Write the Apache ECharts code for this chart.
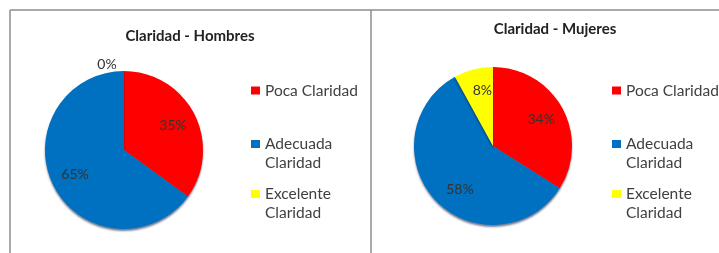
<!DOCTYPE html>
<html>
<head>
<meta charset="utf-8">
<script src="https://cdn.jsdelivr.net/npm/echarts@6/dist/echarts.min.js"></script>
<style>
  html, body { margin: 0; padding: 0; background: #fff; }
  #container { width: 719px; height: 253px; }
</style>
</head>
<body>
<div id="container"></div>
<script>
var categories = ["Poca Claridad", "Adecuada Claridad", "Excelente Claridad"];
var hombres = [35, 65, 0];
var mujeres = [34, 58, 8];
var titles = ["Claridad - Hombres", "Claridad - Mujeres"];
var colors = ["#FF0000", "#0070C0", "#FFFF00"];

var dom = document.getElementById("container");
var myChart = echarts.init(dom, null, { renderer: "canvas" });

var font = "Lato, 'Open Sans', sans-serif";

// one block per chart: pie centre, title pos, legend x, label nudges
var panels = [
  { values: hombres, center: [124, 150], titleX: 185, titleY: 24, legendX: 251,
    labelOffset: [null, null, [-17, -31]] },
  { values: mujeres, center: [493, 146], titleX: 550, titleY: 17, legendX: 612,
    labelOffset: [null, [7, 6], [3, -2]] }
];
var legendY = [90, 143.5, 193.5];

function toData(values) {
  return values.map(function (v, i) {
    return { name: categories[i], value: v, itemStyle: { color: colors[i] } };
  });
}

var series = [];
var legends = [];
var titleList = [];

panels.forEach(function (p, k) {
  titleList.push({
    text: titles[k],
    left: p.titleX,
    top: p.titleY,
    textAlign: "center",
    textStyle: { fontFamily: font, fontSize: 15, fontWeight: "bold", color: "#222" }
  });

  series.push({
    type: "pie",
    center: p.center,
    radius: [0, 79],
    startAngle: 90,
    clockwise: true,
    silent: true,
    label: { show: false },
    labelLine: { show: false },
    itemStyle: {
      shadowColor: "rgba(0, 20, 60, 0.55)",
      shadowBlur: 2,
      shadowOffsetY: 2
    },
    data: toData(p.values)
  });

  // label-only ring so the percentages sit at about 2/3 radius
  series.push({
    type: "pie",
    center: p.center,
    radius: [26, 78],
    startAngle: 90,
    clockwise: true,
    silent: true,
    legendHoverLink: false,
    label: {
      show: true,
      position: "inner",
      formatter: "{d}%",
      fontFamily: font,
      fontSize: 14,
      color: "#333"
    },
    labelLine: { show: false },
    data: toData(p.values).map(function (d, i) {
      d.itemStyle = { color: "rgba(0,0,0,0)" };
      if (p.labelOffset[i]) d.label = { offset: p.labelOffset[i] };
      return d;
    })
  });

  categories.forEach(function (name, i) {
    var twoLines = name !== "Poca Claridad";
    legends.push({
      data: [name],
      left: p.legendX,
      top: legendY[i] - (twoLines ? 28 : 9),
      padding: 0,
      icon: "rect",
      itemWidth: 9,
      itemHeight: 8,
      itemGap: 0,
      selectedMode: false,
      formatter: function (n) {
        // leading blank line keeps the square beside the first text line
        return n === "Poca Claridad" ? n : "\n" + n.replace(" ", "\n");
      },
      textStyle: {
        fontFamily: font,
        fontSize: 15.5,
        lineHeight: 19,
        color: "#404040"
      }
    });
  });
});

var option = {
  animation: false,
  title: titleList,
  legend: legends,
  graphic: [
    { type: "line", shape: { x1: 10, y1: 10, x2: 719, y2: 10 }, style: { stroke: "#8c8c8c", lineWidth: 1.5 } },
    { type: "line", shape: { x1: 10, y1: 10, x2: 10, y2: 253 }, style: { stroke: "#8c8c8c", lineWidth: 1.5 } },
    { type: "line", shape: { x1: 371, y1: 10, x2: 371, y2: 253 }, style: { stroke: "#8c8c8c", lineWidth: 1.5 } }
  ],
  series: series
};

myChart.setOption(option);
window.addEventListener("resize", myChart.resize);
</script>
</body>
</html>
